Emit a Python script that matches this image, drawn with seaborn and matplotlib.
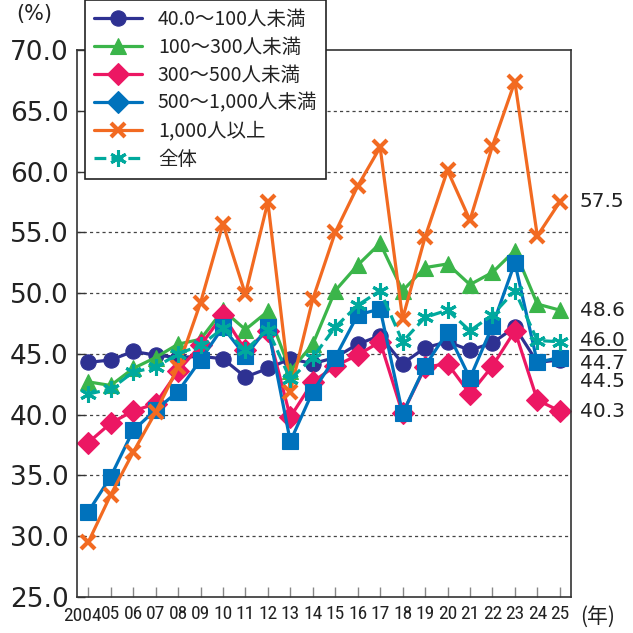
import matplotlib
matplotlib.use("Agg")
import matplotlib.pyplot as plt
from matplotlib import font_manager
from matplotlib.font_manager import FontProperties
from matplotlib.lines import Line2D
import matplotlib.transforms as mtransforms
import seaborn as sns

years = list(range(2004, 2026))
year_labels = ["2004"] + [f"{y % 100:02d}" for y in years[1:]]

s_40_100 = [44.3, 44.5, 45.2, 44.9, 44.7, 44.8, 44.6, 43.1, 43.8, 44.6, 44.2, 44.7,
            45.8, 46.5, 44.2, 45.5, 46.0, 45.3, 45.9, 47.2, 44.3, 44.5]
s_100_300 = [42.7, 42.4, 43.8, 44.7, 45.8, 46.2, 48.6, 47.0, 48.5, 43.6, 45.8, 50.2,
             52.3, 54.1, 50.2, 52.1, 52.4, 50.7, 51.7, 53.5, 49.1, 48.6]
s_300_500 = [37.7, 39.3, 40.3, 40.9, 43.6, 45.7, 48.2, 45.3, 46.9, 39.8, 42.7, 44.0,
             44.9, 46.0, 40.1, 43.9, 44.2, 41.7, 44.0, 46.9, 41.2, 40.3]
s_500_1000 = [32.0, 34.9, 38.7, 40.4, 41.9, 44.5, 47.2, 44.8, 47.2, 37.8, 41.9, 44.7,
              48.2, 48.7, 40.1, 44.0, 46.8, 43.0, 47.3, 52.5, 44.3, 44.7]
s_1000 = [29.5, 33.4, 36.9, 40.2, 43.9, 49.2, 55.7, 49.9, 57.5, 41.9, 49.5, 55.0,
          58.8, 62.0, 47.9, 54.6, 60.1, 56.0, 62.1, 67.4, 54.7, 57.5]
s_total = [41.7, 42.1, 43.5, 43.9, 45.0, 45.7, 47.1, 45.3, 47.0, 42.9, 44.7, 47.2,
           49.0, 50.2, 46.0, 48.0, 48.6, 46.9, 48.2, 50.2, 46.1, 46.0]

names = ["40.0～100人未満", "100～300人未満", "300～500人未満",
         "500～1,000人未満", "1,000人以上", "全体"]
series = [s_40_100, s_100_300, s_300_500, s_500_1000, s_1000, s_total]
colors = ["#2E3192", "#3BB54A", "#EC1763", "#0072BC", "#F26A21", "#00A99D"]
markers = ["o", "^", "D", "s", "x", (6, 2, 0)]
legend_markers = ["o", "^", "D", "D", "x", (6, 2, 0)]
msizes = [11, 11, 11, 11, 10, 12]
mews = [0.8, 0.8, 0.8, 0.8, 3.0, 2.2]
styles = ["-", "-", "-", "-", "-", "--"]

# right-hand end labels (shifted where they would collide)
end_label_y = [42.7, 48.6, 40.3, 44.2, 57.5, 46.1]

sns.set_theme(style="white")
plt.rcParams["font.family"] = ["Noto Sans CJK JP", "DejaVu Sans"]

# look for a narrow face for the crowded year labels
narrow_path = None
prefs = ["Roboto Condensed", "Liberation Sans Narrow", "DejaVu Sans", "Noto Sans",
         "Open Sans", "Arial Narrow"]
found = {}
for f in font_manager.fontManager.ttflist:
    st = str(f.stretch).lower()
    narrow = ("condensed" in st or "narrow" in f.name.lower()
              or "condensed" in f.name.lower() or "condensed" in f.fname.lower()
              or "narrow" in f.fname.lower())
    if narrow and f.style == "normal" and f.weight in (400, "normal", "regular"):
        found.setdefault(f.name, f.fname)
for p in prefs:
    if p in found:
        narrow_path = found[p]
        break
if narrow_path is None and found:
    narrow_path = list(found.values())[0]

fig = plt.figure(figsize=(6.33, 6.33), dpi=100)
ax = fig.add_axes([77 / 633, 1 - 597 / 633, 494 / 633, 547 / 633])

for vals, c, m, ms, mw, ls in zip(series, colors, markers, msizes, mews, styles):
    sns.lineplot(x=years, y=vals, ax=ax, color=c, linestyle=ls, linewidth=2.3,
                 marker=m, markersize=ms, markeredgecolor=c, markeredgewidth=mw,
                 legend=False)

ax.set_xlim(2003.5, 2025.5)
ax.set_ylim(25, 70)
ax.set_yticks([25, 30, 35, 40, 45, 50, 55, 60, 65, 70])
ax.set_yticklabels([f"{v:.1f}" for v in ax.get_yticks()], fontsize=19, color="#222222",
                   family=["DejaVu Sans"])
ax.set_xticks(years)

if narrow_path is not None:
    xfp = FontProperties(fname=narrow_path, size=14)
else:
    xfp = FontProperties(family="Liberation Sans", size=12)
ax.set_xticklabels([""] + year_labels[1:], fontproperties=xfp, color="#222222")
# first year label sits left of its tick, as in the original
ax.annotate(year_labels[0], xy=(years[0], 0), xycoords=("data", "axes fraction"),
            xytext=(9.5, -7.5), textcoords="offset points", ha="right", va="top",
            fontproperties=xfp, color="#222222", annotation_clip=False)

ax.tick_params(axis="y", direction="in", length=6, width=1, color="#333333", pad=6, left=True)
ax.tick_params(axis="x", direction="in", length=7, width=1, color="#888888", pad=6, bottom=True)

for y in [30, 35, 40, 45, 50, 55, 60, 65]:
    ax.axhline(y, color="#444444", linestyle=(0, (2.5, 2.5)), linewidth=0.9, zorder=0)

for sp in ax.spines.values():
    sp.set_visible(True)
    sp.set_color("#333333")
    sp.set_linewidth(1.2)

ax.set_xlabel("")
ax.set_ylabel("")

trans = mtransforms.blended_transform_factory(ax.transAxes, ax.transData)
for vals, ly in zip(series, end_label_y):
    ax.text(1.018, ly, f"{vals[-1]:.1f}", transform=trans, ha="left", va="center",
            fontsize=14.5, color="#222222", family=["DejaVu Sans"], clip_on=False)
# underline for the overall figure
ax.plot([1.018, 1.112], [45.3, 45.3], transform=trans, color="#222222",
        linewidth=1.2, clip_on=False)

fig.text(16 / 633, 1 - 14 / 633, "(%)", fontsize=15, color="#222222", va="center",
         family=["DejaVu Sans"])
fig.text(580 / 633, 1 - 617 / 633, "(年)", fontsize=15, color="#222222", va="center")

handles = [Line2D([0], [0], color=c, linestyle=ls, linewidth=2.3, marker=m,
                  markersize=ms, markeredgecolor=c, markeredgewidth=mw)
           for c, ls, m, ms, mw in zip(colors, styles, legend_markers, msizes, mews)]
leg = fig.legend(handles, names, loc="upper left", bbox_to_anchor=(85 / 633, 1.0),
                 bbox_transform=fig.transFigure, frameon=True, fancybox=False,
                 framealpha=1, edgecolor="#222222", fontsize=14,
                 handlelength=2.5, handletextpad=0.8, labelspacing=0.36,
                 borderpad=0.45, borderaxespad=0)
leg.get_frame().set_linewidth(1.2)
for t in leg.get_texts():
    t.set_color("#222222")

# small reference mark after the first legend entry
fig.canvas.draw()
bb = leg.get_texts()[0].get_window_extent()
fig.text(bb.x1 / 633 + 0.002, bb.y1 / 633 - 0.004, "※", fontsize=7, color="#555555",
         va="top", ha="left")

fig.savefig("out.png", dpi=100)
